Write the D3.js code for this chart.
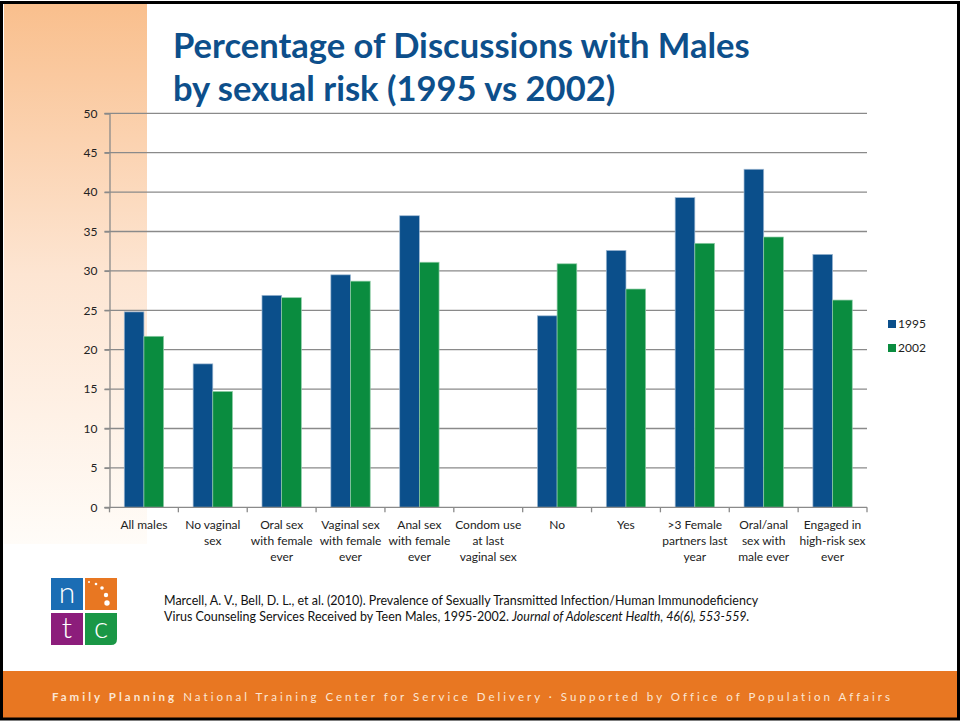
<!DOCTYPE html>
<html>
<head>
<meta charset="utf-8">
<script src="https://cdn.jsdelivr.net/npm/d3@7"></script>
<style>
  html, body { margin: 0; padding: 0; background: #fff; }
  svg { display: block; font-family: Lato, "Open Sans", sans-serif; }
</style>
</head>
<body>
<svg id="slide" width="960" height="721"></svg>
<script>
// Categories (label lines for each tick)
const categoryLines = [
  ["All males"],
  ["No vaginal", "sex"],
  ["Oral sex", "with female", "ever"],
  ["Vaginal sex", "with female", "ever"],
  ["Anal sex", "with female", "ever"],
  ["Condom use", "at last", "vaginal sex"],
  ["No"],
  ["Yes"],
  [">3 Female", "partners last", "year"],
  ["Oral/anal", "sex with", "male ever"],
  ["Engaged in", "high-risk sex", "ever"]
];
const categories = categoryLines.map(l => l.join(" "));

// Series values (percent); the condom-use header row has no bars
const series = ["1995", "2002"];
const values1995 = [24.8, 18.2, 26.9, 29.5, 37.0, null, 24.3, 32.6, 39.3, 42.9, 32.1];
const values2002 = [21.7, 14.7, 26.6, 28.7, 31.1, null, 30.9, 27.7, 33.5, 34.3, 26.3];
const yTicks = [0, 5, 10, 15, 20, 25, 30, 35, 40, 45, 50];

const seriesColors = { "1995": "#0b4f8b", "2002": "#0a8c3f" };
const seriesEdges = { "1995": "#9fb9d3", "2002": "#8fcca6" };

const svg = d3.select("#slide");
const defs = svg.append("defs");

// Scale a text's font size so that it spans the given width
function fitWidth(sel, baseSize, width) {
  sel.attr("font-size", baseSize);
  const w = sel.node().getComputedTextLength();
  sel.attr("font-size", baseSize * width / w);
}

// Left accent strip gradient
const grad = defs.append("linearGradient").attr("id", "strip").attr("x1", 0).attr("y1", 0).attr("x2", 0).attr("y2", 1);
grad.append("stop").attr("offset", "0%").attr("stop-color", "#f9bf8d");
grad.append("stop").attr("offset", "50%").attr("stop-color", "#fde5d2");
grad.append("stop").attr("offset", "100%").attr("stop-color", "#fffcf8");

svg.append("rect").attr("x", 0).attr("y", 0).attr("width", 960).attr("height", 721).attr("fill", "#fff");
svg.append("rect").attr("x", 4).attr("y", 4).attr("width", 143).attr("height", 540).attr("fill", "url(#strip)");

// Footer band
svg.append("rect").attr("x", 0).attr("y", 671).attr("width", 960).attr("height", 48).attr("fill", "#e87722");
const foot = svg.append("text").attr("x", 52).attr("y", 701)
  .attr("font-size", 11.5).attr("fill", "#fbe6d4").attr("letter-spacing", "2px");
foot.append("tspan").attr("font-weight", "bold").text("Family Planning");
foot.append("tspan").text(" National Training Center for Service Delivery · Supported by Office of Population Affairs");
{
  // widen the letter spacing until the line spans 52..893
  const w = foot.node().getComputedTextLength();
  const nChars = foot.text().length;
  const extra = (841 - w) / nChars;
  foot.attr("letter-spacing", (2 + extra) + "px");
}

// Slide frame
svg.append("rect").attr("x", 1.5).attr("y", 2.5).attr("width", 957).attr("height", 716.5)
  .attr("fill", "none").attr("stroke", "#000").attr("stroke-width", 3);

// Title
const titleColor = "#0d4f8b";
const titleLines = ["Percentage of Discussions with Males", "by sexual risk (1995 vs 2002)"];
const titleG = svg.append("g");
const t1 = titleG.append("text").attr("x", 173).attr("y", 58).attr("font-weight", "bold")
  .attr("fill", titleColor).text(titleLines[0]);
fitWidth(t1, 31, 577);
titleG.append("text").attr("x", 173).attr("y", 101).attr("font-weight", "bold")
  .attr("font-size", t1.attr("font-size")).attr("fill", titleColor).text(titleLines[1]);

// Scales
const x0 = d3.scaleBand().domain(categories).range([109.5, 867]).paddingInner(0).paddingOuter(0);
const x1 = d3.scaleBand().domain(series).range([0, x0.bandwidth()]).paddingInner(0).paddingOuter(0.75);
const y = d3.scaleLinear().domain([0, 50]).range([507.3, 113.3]);

// Gridlines
svg.append("g").selectAll("line").data(yTicks.filter(d => d > 0)).join("line")
  .attr("x1", 104.5).attr("x2", 867).attr("y1", d => y(d)).attr("y2", d => y(d))
  .attr("stroke", "#8a8a8a").attr("stroke-width", 1.3);

// Y axis
const yAxis = svg.append("g").attr("transform", "translate(109.5,0)")
  .call(d3.axisLeft(y).tickValues(yTicks).tickSize(5).tickPadding(7));
yAxis.select(".domain").attr("stroke", "#8a8a8a").attr("stroke-width", 1.3);
yAxis.selectAll(".tick line").attr("stroke", "#8a8a8a").attr("stroke-width", 1.3);
yAxis.selectAll(".tick text").attr("font-family", "Lato, sans-serif").attr("font-size", 12).attr("fill", "#222");

// Bars
const rows = categories.map((c, i) => ({ cat: c, vals: { "1995": values1995[i], "2002": values2002[i] } }));
const groups = svg.append("g").selectAll("g").data(rows).join("g")
  .attr("transform", d => `translate(${x0(d.cat)},0)`);
groups.selectAll("rect")
  .data(d => series.filter(s => d.vals[s] != null).map(s => ({ s, v: d.vals[s] })))
  .join("rect")
  .attr("x", d => x1(d.s)).attr("width", x1.bandwidth())
  .attr("y", d => y(d.v)).attr("height", d => y(0) - y(d.v))
  .attr("fill", d => seriesColors[d.s])
  .attr("stroke", d => seriesEdges[d.s]).attr("stroke-width", 0.7);

// X axis: boundary ticks plus wrapped labels
const xAxisG = svg.append("g");
xAxisG.append("line").attr("x1", 104.5).attr("x2", 867).attr("y1", y(0)).attr("y2", y(0))
  .attr("stroke", "#8a8a8a").attr("stroke-width", 1.3);
const bounds = categories.map(c => x0(c)).concat([x0(categories[categories.length - 1]) + x0.bandwidth()]);
xAxisG.selectAll("line.tk").data(bounds).join("line").attr("class", "tk")
  .attr("x1", d => d).attr("x2", d => d).attr("y1", y(0)).attr("y2", y(0) + 5)
  .attr("stroke", "#8a8a8a").attr("stroke-width", 1.3);
const lbl = xAxisG.selectAll("text").data(categories).join("text")
  .attr("text-anchor", "middle").attr("font-size", 12).attr("fill", "#222");
lbl.each(function (c, i) {
  const t = d3.select(this);
  categoryLines[i].forEach((line, k) => {
    t.append("tspan").attr("x", x0(c) + x0.bandwidth() / 2).attr("y", 529 + k * 16).text(line);
  });
});

// Legend
const legend = svg.append("g").selectAll("g").data(series).join("g")
  .attr("transform", (d, i) => `translate(888,${320 + i * 24})`);
legend.append("rect").attr("width", 8).attr("height", 8).attr("fill", d => seriesColors[d]);
legend.append("text").attr("x", 10).attr("y", 8).attr("font-size", 12).attr("fill", "#222").text(d => d);

// NTC logo
const logo = svg.append("g").attr("transform", "translate(51,578)");
const tiles = [
  { x: 0, y: 0, c: "#1b6db4", ch: "n" },
  { x: 34, y: 0, c: "#e87722", ch: "" },
  { x: 0, y: 35, c: "#8c1d7b", ch: "t" }
];
logo.selectAll("rect").data(tiles).join("rect")
  .attr("x", d => d.x).attr("y", d => d.y).attr("width", 32).attr("height", 32).attr("fill", d => d.c);
logo.append("path").attr("d", "M34,35 H66 V61 Q66,67 60,67 H34 Z").attr("fill", "#1a9746");
logo.selectAll("text").data(tiles.filter(d => d.ch).concat([{ x: 34, y: 35, ch: "c" }])).join("text")
  .attr("x", d => d.x + 16).attr("y", d => d.y + 25).attr("text-anchor", "middle")
  .attr("font-size", 30).attr("font-weight", 300).attr("fill", "#fff").text(d => d.ch);
const dots = [[38, 4, 1], [45, 6, 1.3], [51, 10, 1.8], [55, 17, 2.2], [56, 25, 2.7]];
logo.selectAll("circle").data(dots).join("circle")
  .attr("cx", d => d[0]).attr("cy", d => d[1]).attr("r", d => d[2]).attr("fill", "#fff");

// Citation
const cite = svg.append("g").attr("fill", "#111");
const c1 = cite.append("text").attr("x", 164).attr("y", 605)
  .text("Marcell, A. V., Bell, D. L., et al. (2010). Prevalence of Sexually Transmitted Infection/Human Immunodeficiency");
fitWidth(c1, 11, 595);
const c2 = cite.append("text").attr("x", 164).attr("y", 621).attr("font-size", c1.attr("font-size"));
c2.append("tspan").text("Virus Counseling Services Received by Teen Males, 1995-2002. ");
c2.append("tspan").attr("font-style", "italic").text("Journal of Adolescent Health, 46(6), 553-559.");
</script>
</body>
</html>
